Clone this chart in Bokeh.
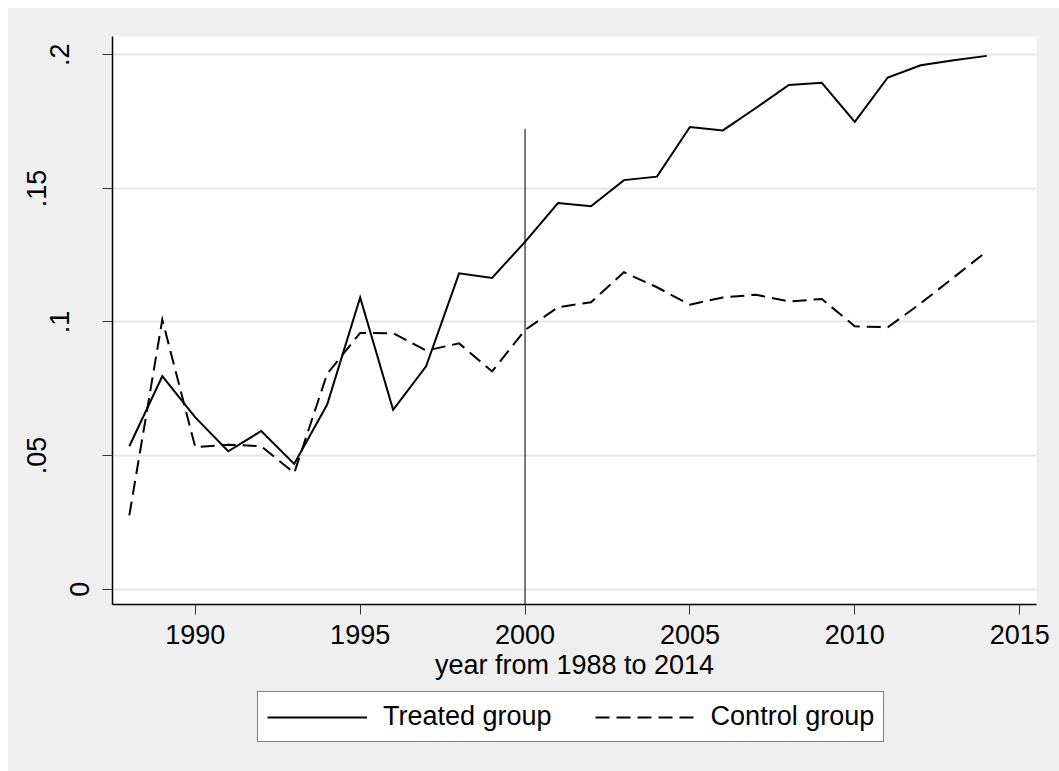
from bokeh.plotting import figure
from bokeh.models import Range1d, FixedTicker, Legend, LegendItem, LinearAxis, Spacer
from bokeh.layouts import column, row
from bokeh.embed import file_html
from bokeh.resources import INLINE

# ---- data ----
years = list(range(1988, 2015))
treated = [0.0535, 0.0797, 0.0643, 0.0516, 0.0592, 0.0469, 0.0691, 0.1092, 0.0671,
           0.0834, 0.1182, 0.1165, 0.1300, 0.1445, 0.1433, 0.1531, 0.1544, 0.1730,
           0.1717, 0.1801, 0.1887, 0.1895, 0.1749, 0.1915, 0.1961, 0.1980, 0.1996]
control = [0.0276, 0.1009, 0.0531, 0.0541, 0.0535, 0.0435, 0.0806, 0.0959, 0.0958,
           0.0893, 0.0920, 0.0815, 0.0970, 0.1055, 0.1074, 0.1186, 0.1130, 0.1065,
           0.1092, 0.1102, 0.1077, 0.1086, 0.0984, 0.0980, 0.1070, 0.1167, 0.1264]
series_names = ["Treated group", "Control group"]
x_ticks = [1990, 1995, 2000, 2005, 2010, 2015]
y_ticks = [0, 0.05, 0.1, 0.15, 0.2]
y_tick_labels = ["0", ".05", ".1", ".15", ".2"]
treatment_year = 2000
vline_top = 0.1723
x_title = "year from 1988 to 2014"

FONT = "Liberation Sans"
FS = "27px"
BG = "#efefef"
X_START, X_END = 1987.49, 2015.51
Y_START, Y_END = -0.00573, 0.20685
W = 1051
H_MAIN = 682
H_LEG = 81
SOLID = dict(line_color="black", line_width=2, line_join="miter")
DASHED = dict(line_color="black", line_width=2, line_join="miter", line_dash="14 7")

p = figure(width=W, height=H_MAIN, output_backend="svg", toolbar_location=None,
           x_range=Range1d(X_START, X_END), y_range=Range1d(Y_START, Y_END),
           min_border_left=104, min_border_right=23, min_border_top=28,
           min_border_bottom=H_MAIN - 596)
p.background_fill_color = "white"
p.border_fill_color = BG
p.outline_line_color = None

# grid
p.xgrid.visible = False
p.ygrid.ticker = FixedTicker(ticks=y_ticks)
p.ygrid.grid_line_color = "#e6e6e6"
p.ygrid.grid_line_width = 2

# x axis
p.xaxis.ticker = FixedTicker(ticks=x_ticks)
p.xaxis.axis_line_color = "black"
p.xaxis.axis_line_width = 1.5
p.xaxis.major_tick_out = 10
p.xaxis.major_tick_in = 0
p.xaxis.major_tick_line_color = "#333333"
p.xaxis.minor_tick_line_color = None
p.xaxis.major_label_text_font = FONT
p.xaxis.major_label_text_font_size = FS
p.xaxis.major_label_text_color = "black"
p.xaxis.major_label_standoff = 10
p.xaxis.axis_label = x_title
p.xaxis.axis_label_text_font = FONT
p.xaxis.axis_label_text_font_size = FS
p.xaxis.axis_label_text_font_style = "normal"
p.xaxis.axis_label_text_color = "black"
p.xaxis.axis_label_standoff = 3

# y axis: labels are spread over stacked axes so that each label sits
# at the distance the reference shows (shorter labels closer to the axis)
label_of = dict(zip(y_ticks, y_tick_labels))
groups = {}
for v, t in zip(y_ticks, y_tick_labels):
    groups.setdefault(len(t), []).append(v)
lengths = sorted(groups)
standoffs = {1: 13, 2: -2, 3: 1}

yax = p.yaxis[0]
yax.ticker = FixedTicker(ticks=groups[lengths[0]],
                         minor_ticks=[v for v in y_ticks if v not in groups[lengths[0]]])
yax.axis_line_color = "black"
yax.axis_line_width = 1.5
yax.major_tick_out = 10
yax.major_tick_in = 0
yax.minor_tick_out = 10
yax.minor_tick_in = 0
yax.major_tick_line_color = "#333333"
yax.minor_tick_line_color = "#333333"
yax.major_label_orientation = "vertical"
yax.major_label_standoff = standoffs[lengths[0]]
yax.major_label_text_font = FONT
yax.major_label_text_font_size = FS
yax.major_label_text_color = "black"
yax.major_label_overrides = {v: label_of[v] for v in groups[lengths[0]]}

for n in lengths[1:]:
    ax = LinearAxis(ticker=FixedTicker(ticks=groups[n], minor_ticks=[]),
                    axis_line_color=None, major_tick_line_color=None,
                    minor_tick_line_color=None, major_tick_out=0, major_tick_in=0,
                    minor_tick_out=0, minor_tick_in=0,
                    major_label_orientation="vertical",
                    major_label_standoff=standoffs[n],
                    major_label_text_font=FONT, major_label_text_font_size=FS,
                    major_label_text_color="black",
                    major_label_overrides={v: label_of[v] for v in groups[n]})
    p.add_layout(ax, "left")

# treatment line
p.segment(x0=[treatment_year], y0=[Y_START], x1=[treatment_year], y1=[vline_top],
          line_color="#222222", line_width=1.2)

p.line(years, treated, **SOLID)
p.line(years, control, **DASHED)

# ---- legend strip below the chart (its frame is aligned with the chart's) ----
leg = figure(width=W, height=H_LEG, output_backend="svg", toolbar_location=None,
             x_axis_type=None, y_axis_type=None, min_border=0,
             min_border_left=104, min_border_right=23,
             x_range=Range1d(0, 1), y_range=Range1d(0, 1))
leg.background_fill_color = BG
leg.border_fill_color = BG
leg.outline_line_color = None
leg.grid.visible = False
# same series drawn in this strip but outside its (0..1) view: only the keys show
k1 = leg.line(years, treated, **SOLID)
k2 = leg.line(years, control, **DASHED)

legend = Legend(items=[LegendItem(label=series_names[0], renderers=[k1]),
                       LegendItem(label=series_names[1], renderers=[k2])],
                orientation="horizontal", location=(145, 29),
                glyph_width=100, glyph_height=26, label_height=26,
                label_standoff=16, spacing=43, padding=9, margin=0,
                border_line_color="black", border_line_width=1,
                background_fill_color="white", background_fill_alpha=1,
                label_text_font=FONT, label_text_font_size=FS,
                label_text_color="black")
leg.add_layout(legend, "center")

inner = column(p, leg, styles={"background-color": BG})
layout = column(Spacer(height=8), row(Spacer(width=8), inner))
open("out.html", "w").write(file_html(layout, INLINE))
